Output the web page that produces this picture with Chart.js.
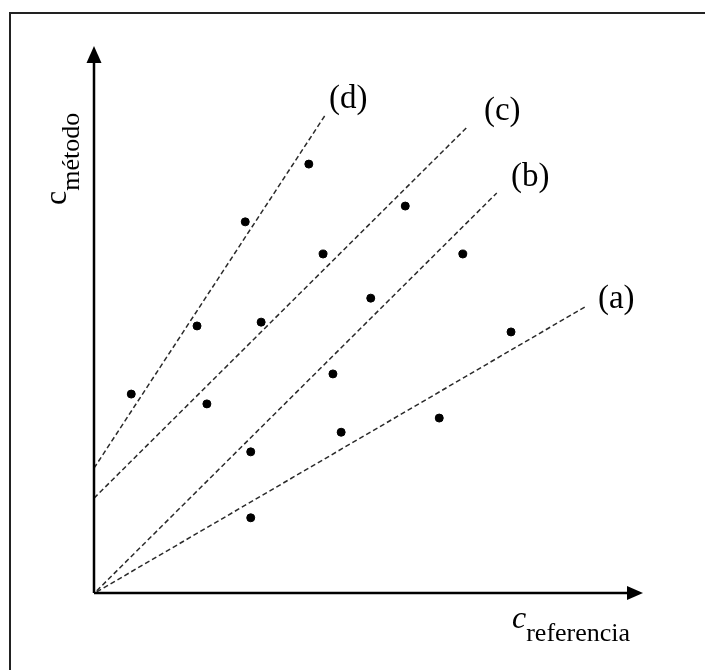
<!DOCTYPE html>
<html>
<head>
<meta charset="utf-8">
<script src="https://cdn.jsdelivr.net/npm/chart.js@4.4.0/dist/chart.umd.min.js"></script>
<style>
  body { margin: 0; background: #fff; }
  canvas { display: block; }
</style>
</head>
<body>
<canvas id="chart" width="705" height="670"></canvas>
<script>
// measured points (c_referencia, c_metodo), arbitrary units 0..10
const pointsX = [0.68, 1.88, 2.76, 3.92, 2.06, 3.05, 4.18, 5.68, 2.86, 4.36, 5.05, 6.73, 2.86, 4.51, 6.30, 7.61];
const pointsY = [3.65, 4.90, 6.81, 7.87, 3.47, 4.97, 6.22, 7.10, 2.59, 4.02, 5.41, 6.22, 1.38, 2.95, 3.21, 4.79];

// fitted lines, start and end
const lineNames = ['(a)', '(b)', '(c)', '(d)'];
const lineX = [[0.05, 8.96], [0.05, 7.35], [0, 6.81], [0, 4.22]];
const lineY = [[0.02, 5.25], [0.04, 7.34], [1.74, 8.55], [2.29, 8.77]];
const labelX = [9.53, 7.96, 7.45, 4.64];
const labelY = [5.38, 7.63, 8.84, 9.05];

const FONT = '"Liberation Serif", "Times New Roman", serif';

const datasets = lineNames.map((name, i) => ({
    label: name,
    data: lineX[i].map((x, j) => ({ x: x, y: lineY[i][j] })),
    showLine: true,
    borderColor: '#2a2a2a',
    borderWidth: 1.5,
    borderDash: [5, 3],
    pointRadius: 0,
    fill: false
}));

datasets.push({
    label: 'puntos',
    data: pointsX.map((x, i) => ({ x: x, y: pointsY[i] })),
    backgroundColor: '#000',
    borderColor: '#000',
    pointRadius: 4,
    pointHoverRadius: 4,
    showLine: false
});

// frame, arrows, axis titles and line labels
const decorations = {
    id: 'decorations',
    beforeDraw(chart) {
        const ctx = chart.ctx;
        ctx.save();
        ctx.fillStyle = '#fff';
        ctx.fillRect(0, 0, chart.width, chart.height);
        ctx.strokeStyle = '#222';
        ctx.lineWidth = 2;
        ctx.beginPath();
        ctx.moveTo(10, chart.height);
        ctx.lineTo(10, 13);
        ctx.lineTo(chart.width, 13);
        ctx.stroke();
        ctx.restore();
    },
    afterDraw(chart) {
        const ctx = chart.ctx;
        const a = chart.chartArea;
        const xs = chart.scales.x, ys = chart.scales.y;
        ctx.save();
        ctx.strokeStyle = '#000';
        ctx.fillStyle = '#000';
        ctx.lineWidth = 2.5;
        ctx.beginPath();
        ctx.moveTo(a.left, a.bottom);
        ctx.lineTo(a.left, a.top + 10);
        ctx.moveTo(a.left, a.bottom);
        ctx.lineTo(a.right - 10, a.bottom);
        ctx.stroke();
        // arrow heads
        ctx.beginPath();
        ctx.moveTo(a.left, a.top - 2);
        ctx.lineTo(a.left - 7.5, a.top + 15);
        ctx.lineTo(a.left + 7.5, a.top + 15);
        ctx.closePath();
        ctx.fill();
        ctx.beginPath();
        ctx.moveTo(a.right + 1, a.bottom);
        ctx.lineTo(a.right - 15, a.bottom - 7);
        ctx.lineTo(a.right - 15, a.bottom + 7);
        ctx.closePath();
        ctx.fill();

        // line labels
        ctx.font = '33px ' + FONT;
        ctx.textAlign = 'center';
        ctx.textBaseline = 'middle';
        lineNames.forEach((name, i) => {
            ctx.fillText(name, xs.getPixelForValue(labelX[i]), ys.getPixelForValue(labelY[i]));
        });

        // x axis title
        ctx.textAlign = 'left';
        ctx.textBaseline = 'alphabetic';
        ctx.font = 'italic 32px ' + FONT;
        ctx.fillText('c', 512, 628);
        const cw = ctx.measureText('c').width;
        ctx.font = '26px ' + FONT;
        ctx.fillText('referencia', 512 + cw, 641);

        // y axis title
        ctx.translate(66, 205);
        ctx.rotate(-Math.PI / 2);
        ctx.font = '32px ' + FONT;
        ctx.fillText('c', 0, 0);
        const cw2 = ctx.measureText('c').width;
        ctx.font = '26px ' + FONT;
        ctx.fillText('método', cw2, 13);
        ctx.restore();
    }
};

new Chart(document.getElementById('chart'), {
    type: 'scatter',
    data: { datasets: datasets },
    options: {
        responsive: false,
        animation: false,
        clip: false,
        layout: { padding: { left: 94, right: 63, top: 48, bottom: 77 } },
        scales: {
            x: { type: 'linear', min: 0, max: 10, display: false },
            y: { type: 'linear', min: 0, max: 10, display: false }
        },
        plugins: {
            legend: { display: false },
            tooltip: { enabled: false }
        }
    },
    plugins: [decorations]
});
</script>
</body>
</html>
